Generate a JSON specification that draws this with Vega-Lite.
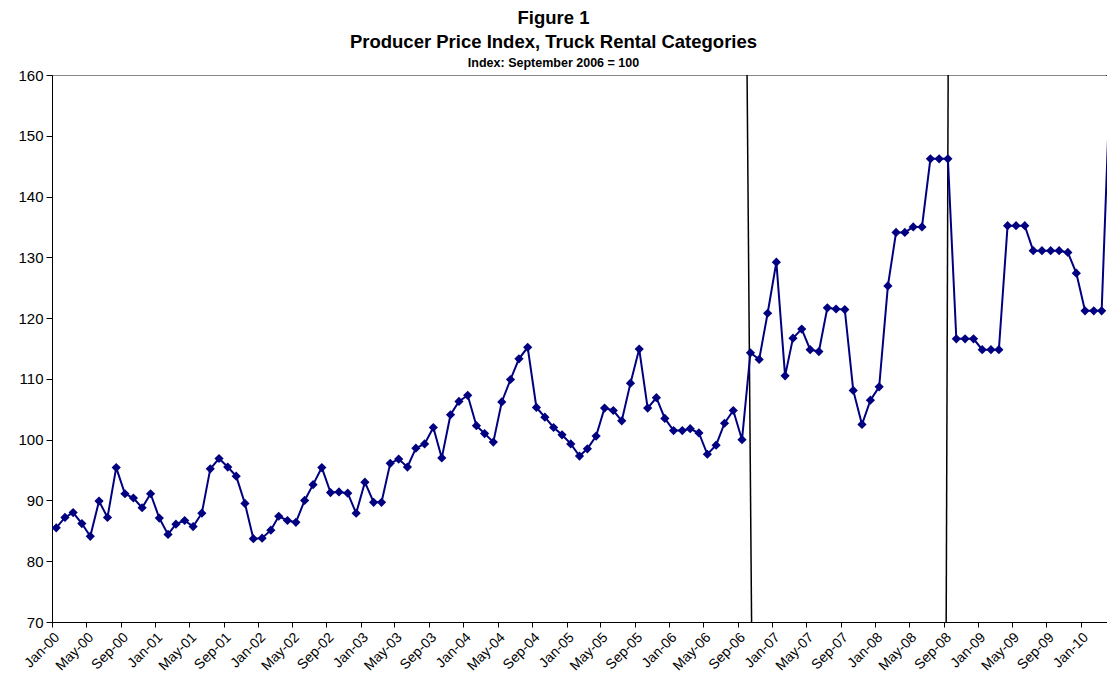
{
  "$schema": "https://vega.github.io/schema/vega-lite/v6.json",
  "autosize": "none",
  "width": 1055,
  "height": 547,
  "padding": {"left": 52, "top": 75, "right": 0, "bottom": 63},
  "background": "white",
  "title": {
    "text": ["Figure 1", "Producer Price Index, Truck Rental Categories"],
    "subtitle": "Index: September 2006 = 100",
    "font": "Liberation Sans",
    "fontSize": 18.5,
    "fontWeight": "bold",
    "color": "#000",
    "lineHeight": 24,
    "subtitleFont": "Liberation Sans",
    "subtitleFontSize": 12.5,
    "subtitleFontWeight": "bold",
    "subtitleColor": "#000",
    "subtitlePadding": 5,
    "anchor": "middle",
    "dx": -26,
    "offset": -1
  },
  "datasets": {
    "ppi": [
      {"date": "2000-01-16", "value": 85.5}, {"date": "2000-02-16", "value": 87.2}, {"date": "2000-03-16", "value": 88.0}, {"date": "2000-04-16", "value": 86.2},
      {"date": "2000-05-16", "value": 84.1}, {"date": "2000-06-16", "value": 89.9}, {"date": "2000-07-16", "value": 87.2}, {"date": "2000-08-16", "value": 95.4},
      {"date": "2000-09-16", "value": 91.1}, {"date": "2000-10-16", "value": 90.4}, {"date": "2000-11-16", "value": 88.8}, {"date": "2000-12-16", "value": 91.1},
      {"date": "2001-01-16", "value": 87.1}, {"date": "2001-02-16", "value": 84.4}, {"date": "2001-03-16", "value": 86.1}, {"date": "2001-04-16", "value": 86.7},
      {"date": "2001-05-16", "value": 85.7}, {"date": "2001-06-16", "value": 87.9}, {"date": "2001-07-16", "value": 95.2}, {"date": "2001-08-16", "value": 96.9},
      {"date": "2001-09-16", "value": 95.5}, {"date": "2001-10-16", "value": 94.0}, {"date": "2001-11-16", "value": 89.5}, {"date": "2001-12-16", "value": 83.7},
      {"date": "2002-01-16", "value": 83.8}, {"date": "2002-02-16", "value": 85.1}, {"date": "2002-03-16", "value": 87.4}, {"date": "2002-04-16", "value": 86.7},
      {"date": "2002-05-16", "value": 86.4}, {"date": "2002-06-16", "value": 90.0}, {"date": "2002-07-16", "value": 92.6}, {"date": "2002-08-16", "value": 95.4},
      {"date": "2002-09-16", "value": 91.3}, {"date": "2002-10-16", "value": 91.4}, {"date": "2002-11-16", "value": 91.2}, {"date": "2002-12-16", "value": 87.9},
      {"date": "2003-01-16", "value": 93.0}, {"date": "2003-02-16", "value": 89.7}, {"date": "2003-03-16", "value": 89.7}, {"date": "2003-04-16", "value": 96.1},
      {"date": "2003-05-16", "value": 96.8}, {"date": "2003-06-16", "value": 95.5}, {"date": "2003-07-16", "value": 98.6}, {"date": "2003-08-16", "value": 99.3},
      {"date": "2003-09-16", "value": 102.0}, {"date": "2003-10-16", "value": 97.0}, {"date": "2003-11-16", "value": 104.1}, {"date": "2003-12-16", "value": 106.3},
      {"date": "2004-01-16", "value": 107.3}, {"date": "2004-02-16", "value": 102.3}, {"date": "2004-03-16", "value": 101.0}, {"date": "2004-04-16", "value": 99.6},
      {"date": "2004-05-16", "value": 106.2}, {"date": "2004-06-16", "value": 109.9}, {"date": "2004-07-16", "value": 113.3}, {"date": "2004-08-16", "value": 115.2},
      {"date": "2004-09-16", "value": 105.3}, {"date": "2004-10-16", "value": 103.7}, {"date": "2004-11-16", "value": 102.0}, {"date": "2004-12-16", "value": 100.8},
      {"date": "2005-01-16", "value": 99.3}, {"date": "2005-02-16", "value": 97.3}, {"date": "2005-03-16", "value": 98.5}, {"date": "2005-04-16", "value": 100.6},
      {"date": "2005-05-16", "value": 105.2}, {"date": "2005-06-16", "value": 104.8}, {"date": "2005-07-16", "value": 103.1}, {"date": "2005-08-16", "value": 109.3},
      {"date": "2005-09-16", "value": 114.9}, {"date": "2005-10-16", "value": 105.2}, {"date": "2005-11-16", "value": 106.9}, {"date": "2005-12-16", "value": 103.5},
      {"date": "2006-01-16", "value": 101.5}, {"date": "2006-02-16", "value": 101.5}, {"date": "2006-03-16", "value": 101.8}, {"date": "2006-04-16", "value": 101.1},
      {"date": "2006-05-16", "value": 97.6}, {"date": "2006-06-16", "value": 99.1}, {"date": "2006-07-16", "value": 102.7}, {"date": "2006-08-16", "value": 104.8},
      {"date": "2006-09-16", "value": 100.0}, {"date": "2006-10-16", "value": 114.3}, {"date": "2006-11-16", "value": 113.2}, {"date": "2006-12-16", "value": 120.8},
      {"date": "2007-01-16", "value": 129.2}, {"date": "2007-02-16", "value": 110.5}, {"date": "2007-03-16", "value": 116.7}, {"date": "2007-04-16", "value": 118.2},
      {"date": "2007-05-16", "value": 114.8}, {"date": "2007-06-16", "value": 114.5}, {"date": "2007-07-16", "value": 121.7}, {"date": "2007-08-16", "value": 121.5},
      {"date": "2007-09-16", "value": 121.4}, {"date": "2007-10-16", "value": 108.1}, {"date": "2007-11-16", "value": 102.5}, {"date": "2007-12-16", "value": 106.5},
      {"date": "2008-01-16", "value": 108.7}, {"date": "2008-02-16", "value": 125.3}, {"date": "2008-03-16", "value": 134.1}, {"date": "2008-04-16", "value": 134.1},
      {"date": "2008-05-16", "value": 135.0}, {"date": "2008-06-16", "value": 135.0}, {"date": "2008-07-16", "value": 146.2}, {"date": "2008-08-16", "value": 146.2},
      {"date": "2008-09-16", "value": 146.2}, {"date": "2008-10-16", "value": 116.6}, {"date": "2008-11-16", "value": 116.6}, {"date": "2008-12-16", "value": 116.6},
      {"date": "2009-01-16", "value": 114.8}, {"date": "2009-02-16", "value": 114.8}, {"date": "2009-03-16", "value": 114.8}, {"date": "2009-04-16", "value": 135.2},
      {"date": "2009-05-16", "value": 135.2}, {"date": "2009-06-16", "value": 135.2}, {"date": "2009-07-16", "value": 131.1}, {"date": "2009-08-16", "value": 131.1},
      {"date": "2009-09-16", "value": 131.1}, {"date": "2009-10-16", "value": 131.1}, {"date": "2009-11-16", "value": 130.8}, {"date": "2009-12-16", "value": 127.4},
      {"date": "2010-01-16", "value": 121.2}, {"date": "2010-02-16", "value": 121.2}, {"date": "2010-03-16", "value": 121.2}, {"date": "2010-04-16", "value": 160.0}
    ],
    "breaks": [
      {"line": "a", "date": "2006-10-04", "value": 160}, {"line": "a", "date": "2006-10-20", "value": 70},
      {"line": "b", "date": "2008-09-17", "value": 160}, {"line": "b", "date": "2008-09-10", "value": 70}
    ]
  },
  "encoding": {
    "x": {
      "field": "date",
      "type": "temporal",
      "scale": {
        "type": "utc",
        "domain": [{"year": 2000, "month": 1, "date": 1, "utc": true}, {"year": 2010, "month": 4, "date": 4, "utc": true}]
      },
      "axis": {
        "title": null,
        "format": "%b-%y",
        "labelAngle": -45,
        "labelFont": "Liberation Sans",
        "labelFontSize": 14,
        "labelColor": "#000",
        "labelOverlap": false,
        "labelBound": false,
        "labelFlush": false,
        "labelPadding": 3,
        "tickSize": 5,
        "tickColor": "#000",
        "domainColor": "#000",
        "grid": false,
        "values": [
          {"year": 2000, "month": 1, "date": 1, "utc": true}, {"year": 2000, "month": 5, "date": 1, "utc": true}, {"year": 2000, "month": 9, "date": 1, "utc": true},
          {"year": 2001, "month": 1, "date": 1, "utc": true}, {"year": 2001, "month": 5, "date": 1, "utc": true}, {"year": 2001, "month": 9, "date": 1, "utc": true},
          {"year": 2002, "month": 1, "date": 1, "utc": true}, {"year": 2002, "month": 5, "date": 1, "utc": true}, {"year": 2002, "month": 9, "date": 1, "utc": true},
          {"year": 2003, "month": 1, "date": 1, "utc": true}, {"year": 2003, "month": 5, "date": 1, "utc": true}, {"year": 2003, "month": 9, "date": 1, "utc": true},
          {"year": 2004, "month": 1, "date": 1, "utc": true}, {"year": 2004, "month": 5, "date": 1, "utc": true}, {"year": 2004, "month": 9, "date": 1, "utc": true},
          {"year": 2005, "month": 1, "date": 1, "utc": true}, {"year": 2005, "month": 5, "date": 1, "utc": true}, {"year": 2005, "month": 9, "date": 1, "utc": true},
          {"year": 2006, "month": 1, "date": 1, "utc": true}, {"year": 2006, "month": 5, "date": 1, "utc": true}, {"year": 2006, "month": 9, "date": 1, "utc": true},
          {"year": 2007, "month": 1, "date": 1, "utc": true}, {"year": 2007, "month": 5, "date": 1, "utc": true}, {"year": 2007, "month": 9, "date": 1, "utc": true},
          {"year": 2008, "month": 1, "date": 1, "utc": true}, {"year": 2008, "month": 5, "date": 1, "utc": true}, {"year": 2008, "month": 9, "date": 1, "utc": true},
          {"year": 2009, "month": 1, "date": 1, "utc": true}, {"year": 2009, "month": 5, "date": 1, "utc": true}, {"year": 2009, "month": 9, "date": 1, "utc": true},
          {"year": 2010, "month": 1, "date": 1, "utc": true}
        ]
      }
    },
    "y": {
      "field": "value",
      "type": "quantitative",
      "scale": {"domain": [70, 160], "nice": false, "zero": false},
      "axis": {
        "title": null,
        "values": [70, 80, 90, 100, 110, 120, 130, 140, 150, 160],
        "labelFont": "Liberation Sans",
        "labelFontSize": 15,
        "labelColor": "#000",
        "labelPadding": 3,
        "tickSize": 6,
        "tickColor": "#000",
        "domainColor": "#000",
        "grid": false
      }
    }
  },
  "layer": [
    {
      "data": {"name": "breaks"},
      "mark": {"type": "line", "color": "#000", "strokeWidth": 1.5, "clip": true},
      "encoding": {"detail": {"field": "line"}}
    },
    {
      "data": {"name": "ppi"},
      "mark": {
        "type": "line",
        "color": "#000080",
        "strokeWidth": 2,
        "clip": true,
        "point": {"shape": "diamond", "size": 85, "filled": true, "color": "#000080", "opacity": 1}
      }
    }
  ],
  "config": {
    "view": {"stroke": "#888", "strokeWidth": 1}
  }
}
